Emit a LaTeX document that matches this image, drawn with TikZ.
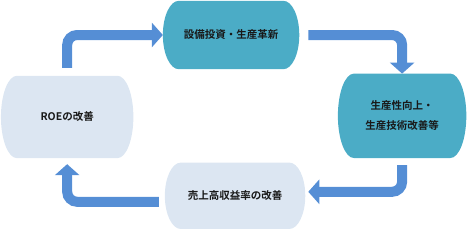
\documentclass[tikz,border=0pt]{standalone}
\usepackage{fontspec}
\newfontfamily\jpfont{Noto Sans CJK JP Bold}
\usepackage{tikz}
\usetikzlibrary{arrows.meta, positioning, calc, backgrounds}
\definecolor{stageteal}{RGB}{75,172,198}
\definecolor{stagepale}{RGB}{220,230,242}
\definecolor{flowblue}{RGB}{85,142,213}

\begin{document}
\begin{tikzpicture}[
    stage/.style={minimum width=#1,inner sep=0pt,align=center,
      font=\jpfont\fontsize{10.5}{20}\selectfont,text=black!90},
    flow/.style={draw=flowblue,line width=10pt,rounded corners=10pt,
      -{Triangle[length=11pt,width=24pt]}}
  ]
  \useasboundingbox (0,0) rectangle (16.41,8.08);

  % stages of the cycle
  \node[stage=136pt,minimum height=68pt] (invest) at (8.12,6.85) {設備投資・生産革新};
  \node[stage=128pt,minimum height=84pt] (prod) at (14.13,4.01) {生産性向上・\\生産技術改善等};
  \node[stage=140pt,minimum height=66pt] (margin) at (8.26,1.20) {売上高収益率の改善};
  \node[stage=132pt,minimum height=82pt] (roe) at (2.36,3.97) {ROEの改善};

  % rounded backgrounds with bulging sides
  \begin{scope}[on background layer]
    \foreach \s/\c in {invest/stageteal, prod/stageteal, margin/stagepale, roe/stagepale} {
      \fill[\c] let \p1=(\s.north), \p2=(\s.south), \n1={(\y1-\y2)/2} in
        ($(\s.north west)+(16pt,0)$) -- ($(\s.north east)+(-16pt,0)$)
        arc[start angle=90,end angle=-90,x radius=16pt,y radius=\n1]
        -- ($(\s.south west)+(16pt,0)$)
        arc[start angle=270,end angle=90,x radius=16pt,y radius=\n1] -- cycle; }
  \end{scope}

  % cycle arrows
  \draw[flow,shorten <=8pt] (roe.north) |- (invest.west);
  \draw[flow,shorten <=9pt] (invest.east) -| (prod.north);
  \draw[flow,shorten <=7pt,shorten >=3pt] (prod.south) |- ([yshift=4pt]margin.east);
  \draw[flow,shorten <=6pt,shorten >=6pt] ([yshift=-6pt]margin.west) -| (roe.south);
\end{tikzpicture}
\end{document}
